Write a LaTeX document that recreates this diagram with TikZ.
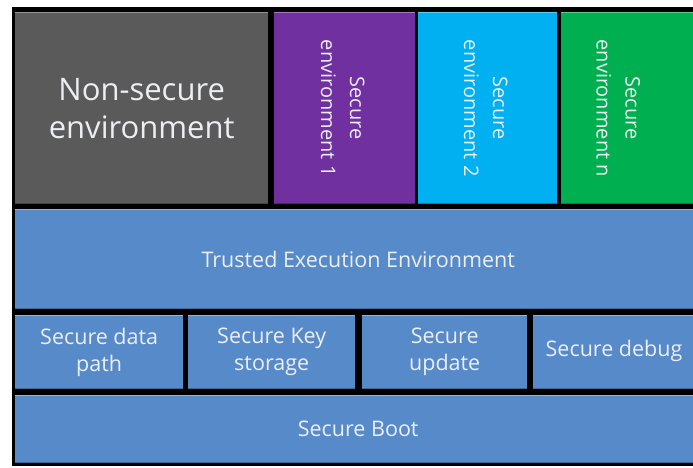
\documentclass[tikz,border=0pt]{standalone}
\usepackage{fontspec}
\setmainfont{Open Sans}
\usepackage{xcolor}
\definecolor{teeblue}{RGB}{86,138,200}
\definecolor{nsgray}{RGB}{90,90,90}
\definecolor{envpurple}{RGB}{112,48,160}
\definecolor{envcyan}{RGB}{0,176,240}
\definecolor{envgreen}{RGB}{0,176,80}
\definecolor{txtwhite}{RGB}{236,238,242}

\tikzset{
  block/.style={anchor=north west, inner sep=0pt, align=center, text=txtwhite,
    font=\fontsize{21.5}{27}\selectfont,
    path picture={\draw[white, opacity=.35, line width=2.5pt]
      (path picture bounding box.north west) -- (path picture bounding box.north east);
      \draw[black, opacity=.25, line width=2.5pt]
      (path picture bounding box.south west) -- (path picture bounding box.south east);}},
  vlabel/.style={rotate=-90, align=center, text=txtwhite, font=\fontsize{20}{29}\selectfont}
}

\begin{document}
\begin{tikzpicture}[x=1pt, y=-1pt]
    \useasboundingbox (0,0) rectangle (693,467);

    % black backing
    \fill[black] (12,7) rectangle (693,466);

    % top row: environments
    \node[block, fill=nsgray, minimum width=253pt, minimum height=192pt,
          font=\fontsize{31}{38}\selectfont] (ns) at (15,12) {Non-secure\\environment};
    \node[block, fill=envpurple, minimum width=141pt, minimum height=192pt] (se1) at (274,12) {};
    \node[block, fill=envcyan, minimum width=139pt, minimum height=192pt] (se2) at (418,12) {};
    \node[block, fill=envgreen, minimum width=140pt, minimum height=192pt] (sen) at (561,12) {};
    \node[vlabel] (se1txt) at ([xshift=-2pt]se1.center) {Secure\\environment 1};
    \node[vlabel] (se2txt) at ([xshift=-2pt]se2.center) {Secure\\environment 2};
    \node[vlabel] (sentxt) at ([xshift=-13pt]sen.center) {Secure\\environment n};

    % trusted execution environment
    \node[block, fill=teeblue, minimum width=686pt, minimum height=100pt] (tee) at (15,209)
        {Trusted Execution Environment};

    % secure services
    \node[block, fill=teeblue, minimum width=168pt, minimum height=74pt] (sdp) at (15,315) {Secure data\\path};
    \node[block, fill=teeblue, minimum width=167pt, minimum height=74pt] (sks) at (188,315) {Secure Key\\storage};
    \node[block, fill=teeblue, minimum width=165pt, minimum height=74pt] (sup) at (362,315) {Secure\\update};
    \node[block, fill=teeblue, minimum width=168pt, minimum height=74pt] (sdb) at (533,315) {};
    \node (sdbtxt) [text=txtwhite, font=\fontsize{21.5}{27}\selectfont] at (614,351) {Secure debug};

    % secure boot
    \node[block, fill=teeblue, minimum width=686pt, minimum height=68pt] (boot) at (15,395) {Secure Boot};
\end{tikzpicture}
\end{document}
